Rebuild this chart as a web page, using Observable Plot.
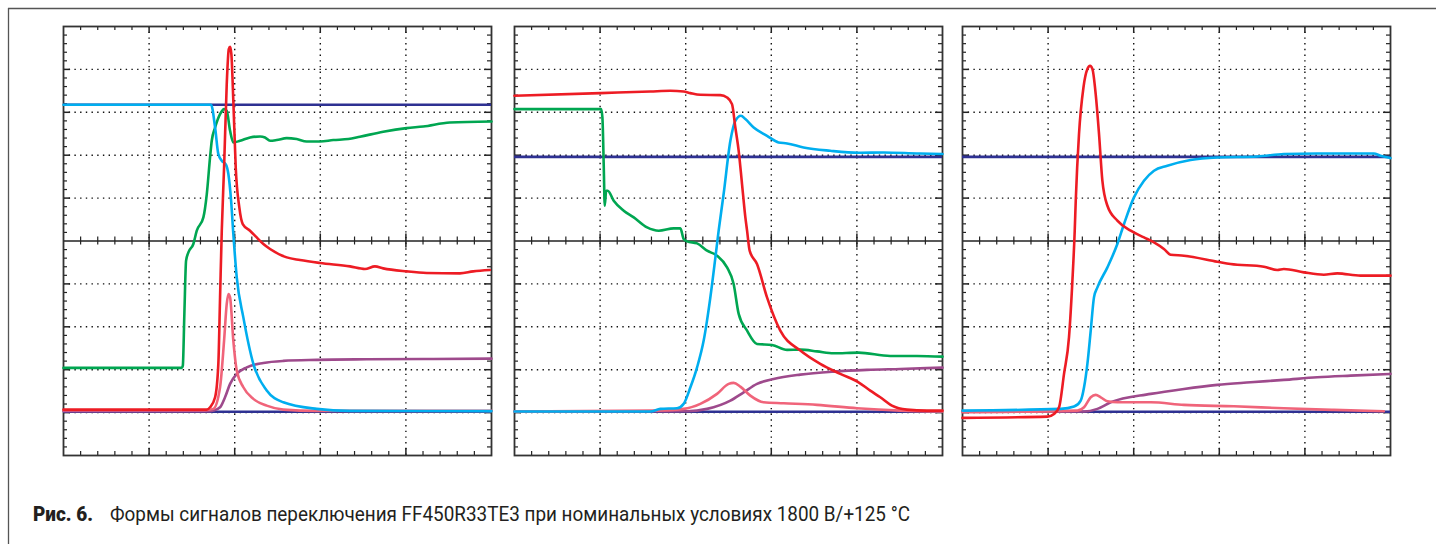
<!DOCTYPE html>
<html>
<head>
<meta charset="utf-8">
<script src="https://cdn.jsdelivr.net/npm/d3@7"></script>
<script src="https://cdn.jsdelivr.net/npm/@observablehq/plot@0.6"></script>
<style>
  html, body { margin: 0; padding: 0; background: #fff; }
  #wrap { position: relative; width: 1436px; height: 544px; overflow: hidden; background: #fff; }
  #wrap > svg.chrome { position: absolute; left: 0; top: 0; }
  .panel { position: absolute; top: 22px; }
</style>
</head>
<body>
<div id="wrap"></div>
<script>
// ---------- data (x in horizontal divisions 0..5, y in vertical divisions -5..5) ----------
const navyLevels1 = [3.175, -3.98];
const navyLevels2 = [1.96, -3.98];
const navyLevels3 = [1.96, -3.98];

const p1Purple = [[0,-3.965],[1.712,-3.965],[1.751,-3.953],[1.829,-3.876],[1.887,-3.643],[1.946,-3.331],[2.024,-3.098],[2.141,-2.944],[2.335,-2.842],[2.568,-2.795],[2.958,-2.772],[3.542,-2.758],[4.319,-2.749],[5,-2.742]];
const p1Pink = [[0,-3.946],[1.654,-3.946],[1.751,-3.913],[1.829,-3.41],[1.876,-2.322],[1.907,-1.468],[1.926,-1.235],[1.946,-1.314],[1.984,-2.322],[2.024,-3.021],[2.101,-3.41],[2.218,-3.68],[2.374,-3.837],[2.568,-3.93],[2.958,-3.96],[5,-3.96]];
const p1Green = [[0,-2.958],[1.382,-2.958],[1.394,-2.905],[1.412,-1.7],[1.432,-0.459],[1.459,-0.266],[1.517,-0.07],[1.557,0.24],[1.634,0.55],[1.674,1.095],[1.712,1.947],[1.732,2.336],[1.771,2.646],[1.829,2.958],[1.876,3.075],[1.907,3.035],[1.946,2.569],[1.984,2.297],[2.063,2.336],[2.179,2.413],[2.296,2.437],[2.354,2.413],[2.413,2.336],[2.491,2.353],[2.608,2.399],[2.724,2.376],[2.841,2.32],[2.996,2.32],[3.152,2.353],[3.327,2.376],[3.463,2.43],[3.735,2.546],[4.008,2.632],[4.202,2.67],[4.514,2.763],[5,2.786]];
const p1Cyan = [[0,3.175],[1.724,3.175],[1.771,2.646],[1.809,2.027],[1.849,1.871],[1.899,1.777],[1.926,1.561],[1.958,0.939],[1.984,0.163],[2.024,-0.848],[2.101,-1.78],[2.218,-2.865],[2.374,-3.487],[2.568,-3.76],[2.958,-3.913],[3.347,-3.96],[5,-3.965]];
const p1Red = [[0,-3.93],[1.674,-3.93],[1.712,-3.876],[1.771,-3.643],[1.809,-2.858],[1.829,-1.314],[1.849,0.24],[1.876,1.714],[1.907,3.657],[1.931,4.472],[1.946,4.526],[1.961,4.356],[1.984,3.268],[2.012,1.714],[2.054,0.783],[2.094,0.396],[2.179,0.24],[2.257,0.084],[2.335,-0.07],[2.413,-0.186],[2.608,-0.382],[2.763,-0.443],[2.996,-0.512],[3.347,-0.592],[3.522,-0.652],[3.638,-0.592],[3.735,-0.638],[4.008,-0.708],[4.242,-0.745],[4.631,-0.755],[4.786,-0.708],[4.981,-0.676]];

const p2Purple = [[0,-3.976],[2.016,-3.969],[2.25,-3.913],[2.522,-3.72],[2.677,-3.527],[2.833,-3.331],[3.027,-3.215],[3.339,-3.114],[3.728,-3.045],[4.117,-3.005],[4.506,-2.982],[5,-2.951]];
const p2Pink = [[0,-3.976],[1.626,-3.953],[1.976,-3.913],[2.171,-3.797],[2.366,-3.564],[2.502,-3.331],[2.56,-3.308],[2.638,-3.394],[2.755,-3.604],[2.91,-3.76],[3.144,-3.783],[3.534,-3.82],[4.001,-3.899],[4.506,-3.953],[5,-3.976]];
const p2Green = [[0,3.075],[1.012,3.075],[1.027,2.879],[1.043,1.714],[1.054,0.822],[1.071,1.172],[1.089,1.172],[1.159,0.939],[1.276,0.706],[1.393,0.55],[1.549,0.317],[1.685,0.24],[1.86,0.294],[1.938,0.294],[1.976,0.047],[2.016,-0.009],[2.133,-0.056],[2.25,-0.226],[2.366,-0.342],[2.483,-0.615],[2.56,-1.002],[2.619,-1.7],[2.717,-2.089],[2.833,-2.399],[3.008,-2.423],[3.184,-2.539],[3.339,-2.532],[3.534,-2.572],[3.728,-2.618],[4.019,-2.602],[4.389,-2.679],[4.701,-2.679],[5,-2.695]];
const p2Cyan = [[0,-3.976],[1.588,-3.976],[1.704,-3.913],[1.899,-3.899],[1.976,-3.797],[2.055,-3.41],[2.133,-2.944],[2.21,-2.322],[2.288,-1.314],[2.347,-0.382],[2.385,0.24],[2.443,1.095],[2.522,2.336],[2.58,2.802],[2.646,2.919],[2.697,2.842],[2.794,2.646],[2.95,2.453],[3.085,2.297],[3.184,2.274],[3.377,2.18],[3.689,2.103],[4.019,2.057],[4.311,2.064],[4.701,2.041],[5,2.027]];
const p2Red = [[0,3.385],[1.004,3.447],[1.588,3.485],[1.821,3.501],[1.976,3.485],[2.055,3.447],[2.171,3.408],[2.405,3.401],[2.483,3.345],[2.541,3.191],[2.58,2.646],[2.619,2.103],[2.658,1.328],[2.697,0.55],[2.717,0.24],[2.747,-0.226],[2.833,-0.536],[2.95,-1.314],[3.105,-2.089],[3.339,-2.555],[3.572,-2.865],[3.806,-3.098],[4.019,-3.294],[4.156,-3.487],[4.273,-3.643],[4.409,-3.837],[4.584,-3.93],[4.818,-3.953],[5,-3.953]];

const p3Purple = [[0,-3.976],[1.42,-3.976],[1.576,-3.913],[1.731,-3.76],[2.198,-3.564],[2.587,-3.448],[2.977,-3.354],[3.366,-3.294],[3.754,-3.238],[4.144,-3.177],[4.533,-3.138],[5,-3.098]];
const p3Pink = [[0,-3.993],[1.342,-3.953],[1.42,-3.876],[1.498,-3.643],[1.556,-3.587],[1.615,-3.643],[1.693,-3.736],[1.809,-3.76],[2.198,-3.76],[2.587,-3.82],[3.171,-3.853],[3.754,-3.899],[4.338,-3.937],[4.922,-3.969]];
const p3Green = [];
const p3Cyan = [[0,-3.953],[1.148,-3.913],[1.303,-3.86],[1.381,-3.72],[1.42,-3.41],[1.459,-2.865],[1.498,-2.089],[1.536,-1.314],[1.576,-1.081],[1.693,-0.615],[1.809,-0.07],[1.887,0.396],[2.003,1.016],[2.12,1.405],[2.237,1.638],[2.393,1.754],[2.665,1.887],[2.977,1.947],[3.444,1.971],[3.754,2.027],[4.144,2.041],[4.805,2.041],[4.883,1.987],[5,1.933]];
const p3Red = [[0,-4.123],[0.992,-4.093],[1.069,-4.03],[1.128,-3.876],[1.186,-3.098],[1.244,-2.246],[1.284,-0.925],[1.311,0.24],[1.323,0.939],[1.361,2.492],[1.413,3.578],[1.459,4.007],[1.49,4.083],[1.518,4.007],[1.556,3.424],[1.595,2.492],[1.634,1.405],[1.693,0.822],[1.809,0.473],[1.965,0.24],[2.12,0.084],[2.237,-0.033],[2.353,-0.186],[2.432,-0.319],[2.587,-0.342],[2.977,-0.482],[3.132,-0.536],[3.521,-0.599],[3.677,-0.676],[3.754,-0.652],[3.988,-0.731],[4.221,-0.785],[4.378,-0.755],[4.65,-0.808],[5,-0.808]];

// grid / tick positions (divisions)
const majorX = [0, 1, 2, 3, 4, 5];
const majorY = [-5, -4, -3, -2, -1, 0, 1, 2, 3, 4, 5];
const minorX = d3.range(0, 26).map(i => i / 5);
const minorY = d3.range(0, 51).map(i => -5 + i / 5);

const captionBold = "Рис. 6.";
const captionText = "Формы сигналов переключения FF450R33TE3 при номинальных условиях 1800 В/+125 °C";

const colors = {navy: "#2e3192", purple: "#9e4a8c", pink: "#f0647a", green: "#00a651", cyan: "#00aeef", red: "#ed1c24"};

// ---------- layout ----------
const W = 428, H = 429, M = 4;
const pxX = W / 5, pxY = H / 10;
const tMinX = 4 / pxY, tMajX = 7 / pxY; // vertical tick lengths (for x ticks) in y units
const tMinY = 4 / pxX, tMajY = 7 / pxX; // horizontal tick lengths (for y ticks) in x units
const inner = (arr, lo, hi) => arr.filter(d => d > lo + 1e-6 && d < hi - 1e-6);
const notMajor = (arr, majors) => arr.filter(d => !majors.some(m => Math.abs(m - d) < 1e-6));

function panel(series, navyLevels) {
  const tickStroke = {stroke: "#222", strokeWidth: 1.2};
  const gx = inner(majorX, 0, 5), gy = inner(majorY, -5, 5).filter(d => d !== 0);
  const mx = notMajor(minorX, majorX), my = notMajor(minorY, majorY);
  const marks = [
    Plot.ruleX(gx, {x: d => d, stroke: "#111", strokeWidth: 1.4, strokeDasharray: "1.4,4.3"}),
    Plot.ruleY(gy, {y: d => d, stroke: "#111", strokeWidth: 1.4, strokeDasharray: "1.4,4.3"}),
    Plot.ruleY([0], {y: d => d, stroke: "#222", strokeWidth: 1.6}),
    // x ticks: top, bottom, center
    Plot.ruleX(mx, {x: d => d, y1: 5, y2: 5 - tMinX, ...tickStroke}),
    Plot.ruleX(mx, {x: d => d, y1: -5, y2: -5 + tMinX, ...tickStroke}),
    Plot.ruleX(mx, {x: d => d, y1: -tMinX, y2: tMinX, ...tickStroke}),
    Plot.ruleX(gx, {x: d => d, y1: 5, y2: 5 - tMajX, ...tickStroke, strokeWidth: 1.5}),
    Plot.ruleX(gx, {x: d => d, y1: -5, y2: -5 + tMajX, ...tickStroke, strokeWidth: 1.5}),
    Plot.ruleX(gx, {x: d => d, y1: -tMajX, y2: tMajX, ...tickStroke, strokeWidth: 1.5}),
    // y ticks: left, right
    Plot.ruleY(my, {y: d => d, x1: 0, x2: tMinY, ...tickStroke}),
    Plot.ruleY(my, {y: d => d, x1: 5, x2: 5 - tMinY, ...tickStroke}),
    Plot.ruleY(gy, {y: d => d, x1: 0, x2: tMajY, ...tickStroke, strokeWidth: 1.5}),
    Plot.ruleY(gy, {y: d => d, x1: 5, x2: 5 - tMajY, ...tickStroke, strokeWidth: 1.5}),
    Plot.frame({stroke: "#333", strokeWidth: 1.8}),
    Plot.ruleY(navyLevels, {y: d => d, stroke: colors.navy, strokeWidth: 2.6})
  ];
  for (const [key, data] of series) {
    if (!data.length) continue;
    marks.push(Plot.line(data, {x: d => d[0], y: d => d[1], stroke: colors[key], strokeWidth: 2.6, curve: "monotone-x", strokeLinejoin: "round"}));
  }
  return Plot.plot({
    width: W + 2 * M, height: H + 2 * M,
    marginLeft: M, marginRight: M, marginTop: M, marginBottom: M,
    x: {domain: [0, 5], axis: null},
    y: {domain: [-5, 5], axis: null},
    style: {background: "transparent", overflow: "visible"},
    marks
  });
}

const wrap = document.getElementById("wrap");

// chrome: outer frame lines + caption
const NS = "http://www.w3.org/2000/svg";
const chrome = document.createElementNS(NS, "svg");
chrome.setAttribute("class", "chrome");
chrome.setAttribute("width", 1436); chrome.setAttribute("height", 544);
chrome.innerHTML = `
  <line x1="8" y1="8.5" x2="1436" y2="8.5" stroke="#555" stroke-width="1.3"/>
  <line x1="8.5" y1="8" x2="8.5" y2="544" stroke="#555" stroke-width="1.3"/>
  <text x="33" y="521" font-family="Roboto, 'Liberation Sans', sans-serif" font-size="20" font-weight="900" fill="#231f20" textLength="60" lengthAdjust="spacingAndGlyphs">${captionBold}</text>
  <text x="110" y="521" font-family="Roboto, 'Liberation Sans', sans-serif" font-size="20" fill="#231f20" textLength="800" lengthAdjust="spacingAndGlyphs">${captionText}</text>`;
wrap.appendChild(chrome);

const panels = [
  {left: 59, series: [["purple", p1Purple], ["pink", p1Pink], ["green", p1Green], ["cyan", p1Cyan], ["red", p1Red]], navy: navyLevels1},
  {left: 510, series: [["purple", p2Purple], ["pink", p2Pink], ["green", p2Green], ["cyan", p2Cyan], ["red", p2Red]], navy: navyLevels2},
  {left: 958, series: [["purple", p3Purple], ["pink", p3Pink], ["green", p3Green], ["cyan", p3Cyan], ["red", p3Red]], navy: navyLevels3}
];
for (const p of panels) {
  const el = panel(p.series, p.navy);
  el.classList.add("panel");
  el.style.position = "absolute";
  el.style.left = p.left + "px";
  el.style.top = "22px";
  wrap.appendChild(el);
}
</script>
</body>
</html>
